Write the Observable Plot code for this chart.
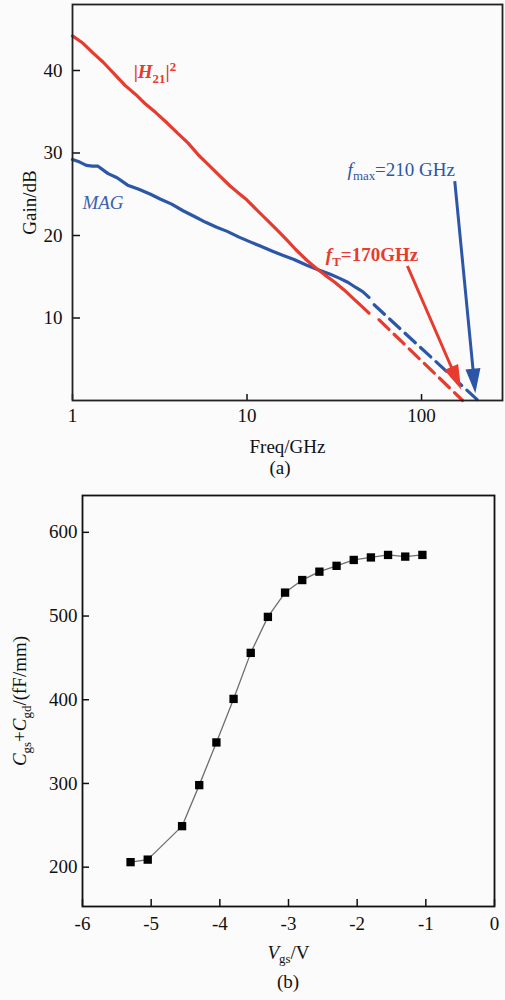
<!DOCTYPE html>
<html><head><meta charset="utf-8">
<script src="https://cdn.jsdelivr.net/npm/d3@7"></script>
<script src="https://cdn.jsdelivr.net/npm/@observablehq/plot@0.6"></script>
<style>
body{margin:0;background:#fbfbfb;font-family:"Liberation Serif","Times New Roman",serif;}
#root{position:relative;width:505px;height:1000px;overflow:hidden}
#root svg{position:absolute;left:0;font-family:"Liberation Serif","Times New Roman",serif;font-size:19px}
.cap{position:absolute;width:100px;text-align:center;font-size:19px;line-height:22px;color:#111}
</style></head><body><div id="root"></div>
<script>
// ---------- Panel (a): gain vs frequency ----------
const h21Freq = [1, 1.15, 1.3, 1.5, 1.75, 2.0, 2.3, 2.6, 3.0, 3.5, 4.0, 4.6, 5.3, 6.0, 7.0, 8.0, 9.0, 10, 11.5, 13, 15, 17, 19, 22, 25, 28, 32, 36, 40, 45, 50];
const h21Gain = [44.2, 43.3, 42.2, 41.0, 39.5, 38.2, 37.1, 36.0, 34.9, 33.6, 32.4, 31.2, 29.7, 28.6, 27.2, 26.0, 25.1, 24.3, 23.0, 21.9, 20.6, 19.4, 18.3, 17.0, 16.0, 15.2, 14.3, 13.4, 12.5, 11.5, 10.6];
const h21ExtFreq = [57, 172];
const h21ExtGain = [9.8, 0];
const magFreq = [1, 1.1, 1.2, 1.3, 1.4, 1.6, 1.8, 2.07, 2.4, 2.8, 3.2, 3.7, 4.3, 5.0, 5.8, 6.7, 7.7, 9.0, 10.5, 12, 14, 16, 18.6, 22, 26, 30, 34, 38, 42, 46, 50];
const magGain = [29.2, 28.9, 28.5, 28.4, 28.4, 27.5, 27.0, 26.1, 25.6, 25.0, 24.4, 23.8, 23.0, 22.3, 21.6, 21.0, 20.5, 19.8, 19.2, 18.7, 18.1, 17.6, 17.1, 16.4, 15.8, 15.3, 14.8, 14.3, 13.7, 13.2, 12.5];
const magExtFreq = [53.5, 211];
const magExtGain = [11.6, 0];
const ftArrowFreq = [83, 164];
const ftArrowGain = [16.3, 1.9];
const fmaxArrowFreq = [155, 202];
const fmaxArrowGain = [26.6, 1.5];
const annotKey = ["h21", "mag", "ft", "fmax"];
const annotText = ["|H21|²", "MAG", "fT=170GHz", "fmax=210 GHz"];
const annotFreq = [2.24, 1.14, 28.3, 37.7];
const annotGain = [39.8, 23.9, 17.6, 28.0];
const freqTicks = [1, 10, 100];
const gainTicks = [10, 20, 30, 40];

// ---------- Panel (b): capacitance vs Vgs ----------
const vgs = [-5.3, -5.05, -4.55, -4.3, -4.05, -3.8, -3.55, -3.3, -3.05, -2.8, -2.55, -2.3, -2.05, -1.8, -1.55, -1.3, -1.05];
const capacitance = [206, 209, 249, 298, 349, 401, 456, 499, 528, 543, 553, 560, 567, 570, 573, 571, 573];
const vgsTicks = [-6, -5, -4, -3, -2, -1, 0];
const capTicks = [200, 300, 400, 500, 600];

const RED = "#e63b2e", BLUE = "#2c56a8";
const FONT = "Liberation Serif";
const zip = (xs, ys) => xs.map((x, i) => ({x, y: ys[i]}));
const annots = annotKey.map((k, i) => ({k, text: annotText[i], x: annotFreq[i], y: annotGain[i]}));

const rich = {
  "|H21|²": [{t:"|"},{t:"H",i:1},{t:"21",sub:1},{t:"|"},{t:"2",sup:1}],
  "fT=170GHz": [{t:"f",i:1},{t:"T",sub:1},{t:"=170GHz"}],
  "fmax=210 GHz": [{t:"f",i:1},{t:"max",sub:1},{t:"=210 GHz"}],
  "Cgs+Cgd/(fF/mm)": [{t:"C",i:1},{t:"gs",sub:1},{t:"+"},{t:"C",i:1},{t:"gd",sub:1},{t:"/(fF/mm)"}],
  "Vgs/V": [{t:"V",i:1},{t:"gs",sub:1},{t:"/V"}]
};
function richify(svg, fs) {
  d3.select(svg).selectAll("text").each(function() {
    const key = this.textContent.trim();
    const segs = rich[key];
    if (!segs) return;
    const t = d3.select(this);
    t.text(null);
    let cur = 0;
    segs.forEach(s => {
      const target = s.sub ? 0.25 * fs : s.sup ? -0.4 * fs : 0;
      const sp = t.append("tspan").text(s.t).attr("dy", target - cur);
      cur = target;
      if (s.i) sp.attr("font-style", "italic");
      if (s.sub || s.sup) sp.attr("font-size", (0.68 * fs) + "px");
    });
  });
}

// layout of panel (a)
const A = {width: 505, height: 455, marginTop: 4, marginRight: 3, marginBottom: 55, marginLeft: 72};
const xDomainA = [1, 291], yDomainA = [0, 48];
const xScaleA = Plot.scale({x: {type: "log", domain: xDomainA, range: [A.marginLeft, A.width - A.marginRight]}});
const yScaleA = Plot.scale({y: {domain: yDomainA, range: [A.height - A.marginBottom, A.marginTop]}});

// filled-head arrow drawn as a vector ending at the tip
const headShape = {
  draw(context, l) {
    const h = 18, w = 5.5;
    context.moveTo(0, 0);
    context.lineTo(0, -l + h * 0.7);
    context.moveTo(-w, -l + h);
    context.lineTo(0, -l);
    context.lineTo(w, -l + h);
    context.closePath();
  }
};
function arrowMark(fx, gy, color) {
  const x1 = xScaleA.apply(fx[0]), y1 = yScaleA.apply(gy[0]);
  const x2 = xScaleA.apply(fx[1]), y2 = yScaleA.apply(gy[1]);
  const len = Math.hypot(x2 - x1, y2 - y1);
  const rot = Math.atan2(x2 - x1, -(y2 - y1)) * 180 / Math.PI;
  return Plot.vector([{x: fx[1], y: gy[1]}], {
    x: "x", y: "y", length: len, rotate: rot, anchor: "end", shape: headShape,
    stroke: color, fill: color, strokeWidth: 3, strokeLinejoin: "miter", strokeLinecap: "butt"
  });
}

const styleA = {fontFamily: FONT, fontSize: "19px", background: "transparent", color: "#111", overflow: "visible"};
const axisFont = {fontFamily: FONT, fontSize: 19, fill: "#111"};

const chartA = Plot.plot({
  ...A,
  style: styleA,
  x: {type: "log", domain: xDomainA},
  y: {domain: yDomainA},
  marks: [
    Plot.line(zip(magFreq, magGain), {x: "x", y: "y", stroke: BLUE, strokeWidth: 3.2}),
    Plot.line(zip(magExtFreq, magExtGain), {x: "x", y: "y", stroke: BLUE, strokeWidth: 3.2, strokeDasharray: "14,7"}),
    Plot.line(zip(h21Freq, h21Gain), {x: "x", y: "y", stroke: RED, strokeWidth: 3.2}),
    Plot.line(zip(h21ExtFreq, h21ExtGain), {x: "x", y: "y", stroke: RED, strokeWidth: 3.2, strokeDasharray: "14,7"}),
    arrowMark(ftArrowFreq, ftArrowGain, RED),
    arrowMark(fmaxArrowFreq, fmaxArrowGain, BLUE),
    Plot.text(annots, {filter: d => d.k === "h21", x: "x", y: "y", text: "text", fill: RED, textAnchor: "start", fontWeight: "bold", fontSize: 19, fontFamily: FONT}),
    Plot.text(annots, {filter: d => d.k === "mag", x: "x", y: "y", text: "text", fill: "#3d60b0", textAnchor: "start", fontStyle: "italic", fontSize: 19, fontFamily: FONT}),
    Plot.text(annots, {filter: d => d.k === "ft", x: "x", y: "y", text: "text", fill: RED, textAnchor: "start", fontWeight: "bold", fontSize: 19, fontFamily: FONT}),
    Plot.text(annots, {filter: d => d.k === "fmax", x: "x", y: "y", text: "text", fill: BLUE, textAnchor: "start", fontSize: 19, fontFamily: FONT}),
    Plot.axisX({...axisFont, ticks: freqTicks, tickSize: -6, tickPadding: 13.5, tickFormat: d => String(d), label: "Freq/GHz", labelAnchor: "center", labelOffset: 52, labelArrow: "none", strokeWidth: 1.5, stroke: "#111"}),
    Plot.axisY({...axisFont, ticks: gainTicks, tickSize: -8, tickPadding: 18, tickFormat: d => String(d), label: "Gain/dB", labelAnchor: "center", labelOffset: 50, labelArrow: "none", strokeWidth: 1.5, stroke: "#111"}),
    Plot.frame({stroke: "#222", strokeWidth: 1.8})
  ]
});

const chartB = Plot.plot({
  width: 505, height: 486,
  marginTop: 15, marginRight: 11, marginBottom: 60, marginLeft: 82,
  style: styleA,
  x: {domain: [-6, 0]},
  y: {domain: [153, 644]},
  marks: [
    Plot.line(zip(vgs, capacitance), {x: "x", y: "y", stroke: "#6e6e6e", strokeWidth: 1.3}),
    Plot.dot(zip(vgs, capacitance), {x: "x", y: "y", symbol: "square", r: 4.7, fill: "#000"}),
    Plot.axisX({...axisFont, ticks: vgsTicks, tickSize: -7, tickPadding: 17, tickFormat: d => String(d), label: "Vgs/V", labelAnchor: "center", labelOffset: 52, labelArrow: "none", strokeWidth: 1.5, stroke: "#111"}),
    Plot.axisY({...axisFont, ticks: capTicks, tickSize: -7, tickPadding: 12, tickFormat: d => String(d), label: "Cgs+Cgd/(fF/mm)", labelAnchor: "center", labelOffset: 70, labelArrow: "none", strokeWidth: 1.5, stroke: "#111"}),
    Plot.frame({stroke: "#111", strokeWidth: 1.8})
  ]
});

richify(chartA, 19);
richify(chartB, 19);

const root = document.getElementById("root");
chartA.style.top = "0px";
chartB.style.top = "480px";
root.appendChild(chartA);
root.appendChild(chartB);
const capA = document.createElement("div");
capA.className = "cap"; capA.textContent = "(a)";
capA.style.left = "230px"; capA.style.top = "457px";
root.appendChild(capA);
const capB = document.createElement("div");
capB.className = "cap"; capB.textContent = "(b)";
capB.style.left = "238px"; capB.style.top = "971px";
root.appendChild(capB);
</script></body></html>
